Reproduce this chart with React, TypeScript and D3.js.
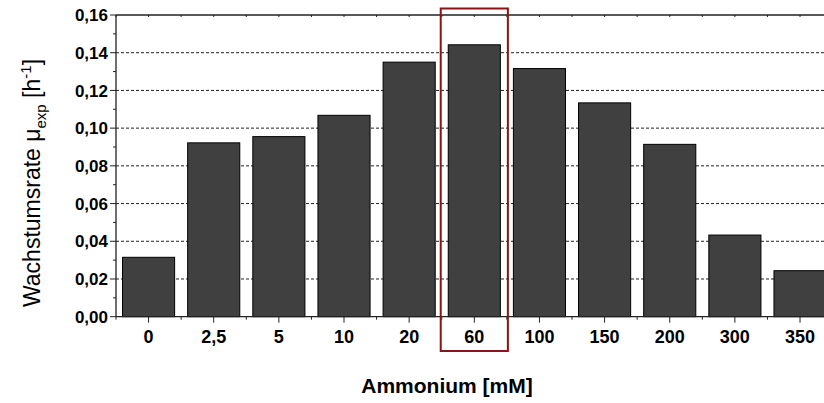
import React from "react";
import * as d3 from "d3";

// Ammonium concentrations (mM) and measured growth rates (h^-1)
const categories: string[] = ["0", "2,5", "5", "10", "20", "60", "100", "150", "200", "300", "350"];
const growthRates: number[] = [0.0315, 0.0922, 0.0955, 0.1068, 0.135, 0.1442, 0.1316, 0.1134, 0.0914, 0.0433, 0.0244];
const yTicks: number[] = [0, 0.02, 0.04, 0.06, 0.08, 0.1, 0.12, 0.14, 0.16];
const highlighted = "60";

const W = 824;
const H = 403;
const left = 116;
const top = 15;
const bottom = 316.7;
const right = 832.6;

const fmt = (v: number) => v.toFixed(2).replace(".", ",");

export default function App() {
  const x = d3.scaleBand<string>().domain(categories).range([left, right]).paddingInner(0.2).paddingOuter(0.1);
  const y = d3.scaleLinear().domain([0, 0.16]).range([bottom, top]);
  const step = x.step();
  const minorY = d3.range(0.01, 0.16, 0.02);
  const boundaries = categories.map((c) => (x(c) as number) - step * 0.1).concat([(x(categories[categories.length - 1]) as number) + x.bandwidth() + step * 0.1]);
  const centers = categories.map((c) => (x(c) as number) + x.bandwidth() / 2);
  const hx = (x(highlighted) as number) + x.bandwidth() / 2;
  const font = "'Liberation Sans', Arial, sans-serif";

  return (
    <svg width={W} height={H} style={{ position: "absolute", left: 0, top: 0, background: "#fff" }} fontFamily={font}>
      {/* dashed grid */}
      {yTicks.filter((t) => t > 0 && t < 0.16).map((t) => (
        <line key={"g" + t} x1={left} x2={W} y1={y(t)} y2={y(t)} stroke="#222" strokeWidth={1} strokeDasharray="3,2" />
      ))}
      {/* bars */}
      {categories.map((c, i) => (
        <rect key={c} x={x(c)} y={y(growthRates[i])} width={x.bandwidth()} height={bottom - y(growthRates[i])} fill="#404040" stroke="#000" strokeWidth={1} />
      ))}
      {/* top axis */}
      <line x1={left} x2={W} y1={top} y2={top} stroke="#222" strokeWidth={1.3} />
      {centers.concat(boundaries).map((v, i) => (
        <line key={"tt" + i} x1={v} x2={v} y1={top} y2={top + 2} stroke="#222" strokeWidth={1} />
      ))}
      {/* left axis */}
      <line x1={left} x2={left} y1={top} y2={bottom} stroke="#222" strokeWidth={1.3} />
      {yTicks.map((t) => (
        <g key={"y" + t}>
          <line x1={left - 6} x2={left} y1={y(t)} y2={y(t)} stroke="#222" strokeWidth={1} />
          <text x={left - 8} y={y(t)} dy="0.36em" textAnchor="end" fontSize={17} fontWeight="bold" fill="#000">{fmt(t)}</text>
        </g>
      ))}
      {minorY.map((t) => (
        <line key={"my" + t} x1={left - 3} x2={left} y1={y(t)} y2={y(t)} stroke="#222" strokeWidth={1} />
      ))}
      {/* bottom axis */}
      <line x1={left} x2={W} y1={bottom} y2={bottom} stroke="#222" strokeWidth={1.3} />
      {centers.map((v, i) => (
        <g key={"xb" + i}>
          <line x1={v} x2={v} y1={bottom} y2={bottom + 6} stroke="#222" strokeWidth={1} />
          <text x={v} y={343} textAnchor="middle" fontSize={18} fontWeight="bold" fill="#000">{categories[i]}</text>
        </g>
      ))}
      {boundaries.map((v, i) => (
        <line key={"mb" + i} x1={v} x2={v} y1={bottom} y2={bottom + 3} stroke="#222" strokeWidth={1} />
      ))}
      {/* highlight */}
      <rect x={hx - step / 2 - 1} y={8.5} width={step + 2} height={342.5} fill="none" stroke="#8B1414" strokeWidth={2} />
      {/* axis titles */}
      <text x={447} y={393} textAnchor="middle" fontSize={21} fontWeight="bold" fill="#000">Ammonium [mM]</text>
      <text transform="translate(40,183) rotate(-90)" textAnchor="middle" fontSize={23} fill="#000">
        Wachstumsrate μ<tspan fontSize={15} dy={6}>exp</tspan><tspan dy={-6}> [h</tspan><tspan fontSize={15} dy={-9}>-1</tspan><tspan dy={9}>]</tspan>
      </text>
    </svg>
  );
}
